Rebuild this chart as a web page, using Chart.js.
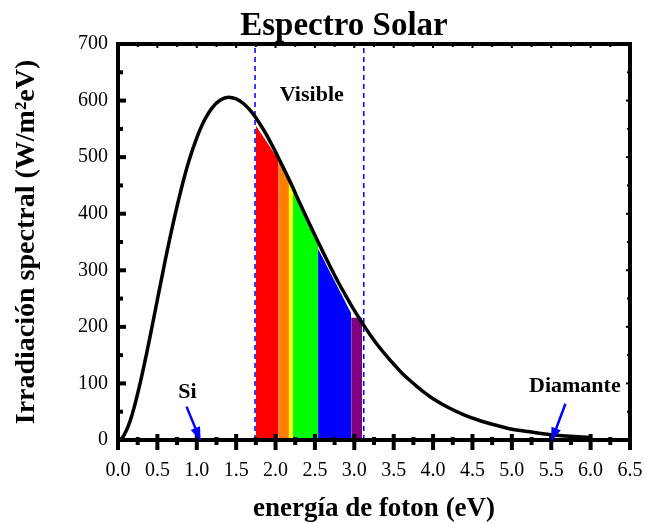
<!DOCTYPE html>
<html>
<head>
<meta charset="utf-8">
<script src="https://cdn.jsdelivr.net/npm/chart.js@4.4.1/dist/chart.umd.min.js"></script>
<style>
  html, body { margin: 0; padding: 0; background: #fff; }
  canvas { display: block; }
</style>
</head>
<body>
<canvas id="grafico" width="645" height="523"></canvas>
<script>
// curva del espectro solar (eV, W/m2eV)
const energia = [0, 0.05, 0.1, 0.15, 0.2, 0.3, 0.4, 0.5, 0.6, 0.7, 0.8, 0.9, 1.0, 1.1, 1.2, 1.3, 1.4, 1.5,
  1.6, 1.7, 1.8, 1.9, 2.0, 2.1, 2.2, 2.3, 2.4, 2.5, 2.6, 2.7, 2.8, 2.9, 3.0, 3.1, 3.2, 3.3, 3.4, 3.5,
  3.6, 3.7, 3.8, 3.9, 4.0, 4.2, 4.4, 4.6, 4.8, 5.0, 5.2, 5.4, 5.6, 5.8, 6.0];
const irradiancia = [0, 3, 15, 32, 55, 112, 178, 248, 318, 383, 442, 493, 534, 566, 588, 601, 606, 603,
  594, 579, 559, 536, 509, 481, 452, 421, 391, 362, 333, 305, 278, 253, 229, 207, 186, 167, 150, 134,
  119, 106, 94, 83, 73, 57, 44, 34, 26, 19, 15, 11, 8, 6, 4.5];

// bandas de color del visible: [x inicio, x fin], [y inicio, y fin]
const bandaColores = ['#ff0000', '#ff8000', '#ffff00', '#00ff00', '#0000ff', '#800080'];
const bandaX = [[1.75, 2.04], [2.04, 2.17], [2.17, 2.22], [2.22, 2.54], [2.54, 2.96], [2.96, 3.10]];
const bandaY = [[556, 495], [495, 458], [457, 454], [454, 348], [338, 224], [216, 216]];

// limites del visible (lineas discontinuas)
const limitesVisible = [1.74, 3.12];

const xTicks = [0, 0.5, 1, 1.5, 2, 2.5, 3, 3.5, 4, 4.5, 5, 5.5, 6, 6.5];
const yTicks = [0, 100, 200, 300, 400, 500, 600, 700];

// flechas de los gaps: texto, posicion del texto, inicio y punta de la flecha
const flechas = [
  { texto: 'Si', tx: 0.88, ty: 85, x0: 0.87, y0: 59, x1: 1.05, y1: -2 },
  { texto: 'Diamante', tx: 5.8, ty: 95, x0: 5.68, y0: 64, x1: 5.5, y1: -3 }
];

const serif = '"Liberation Serif", "Times New Roman", serif';

const datasets = [];
datasets.push({
  data: energia.map((e, i) => ({ x: e, y: irradiancia[i] })),
  borderColor: '#000',
  borderWidth: 3.5,
  pointRadius: 0,
  tension: 0.4,
  cubicInterpolationMode: 'monotone',
  fill: false,
  order: 0
});
limitesVisible.forEach(v => {
  datasets.push({
    data: [{ x: v, y: 0 }, { x: v, y: 700 }],
    borderColor: '#0000ff',
    borderWidth: 1.5,
    borderDash: [5, 4],
    pointRadius: 0,
    fill: false,
    order: 1
  });
});
bandaColores.forEach((c, i) => {
  datasets.push({
    data: [{ x: bandaX[i][0], y: bandaY[i][0] }, { x: bandaX[i][1], y: bandaY[i][1] }],
    borderWidth: 0,
    borderColor: c,
    backgroundColor: c,
    pointRadius: 0,
    fill: (i === 1 || i === 2) ? { value: -10 } : 'origin',
    clip: (i === 1 || i === 2) ? false : undefined,
    order: 2
  });
});

// marco, marcas de los ejes, titulo y flechas
const decoracion = {
  id: 'decoracion',
  afterDatasetsDraw(chart) {
    const { ctx, chartArea: a, scales: { x, y } } = chart;
    ctx.save();
    ctx.fillStyle = '#000';
    // marcas x
    for (let v = 0; v <= 6.5001; v += 0.25) {
      const px = x.getPixelForValue(v);
      const mayor = Math.abs(v * 2 - Math.round(v * 2)) < 1e-6;
      if (mayor) ctx.fillRect(px - 2, a.bottom - 6, 4, 16);
      else ctx.fillRect(px - 2, a.bottom - 3, 4, 8);
      ctx.fillRect(px - 1, a.top, 2, mayor ? 4 : 3);
    }
    // marcas y
    for (let v = 0; v <= 700; v += 50) {
      const py = y.getPixelForValue(v);
      const mayor = v % 100 === 0;
      ctx.fillRect(a.left, py - 2, mayor ? 8 : 5, 4);
      ctx.fillRect(a.right - (mayor ? 4 : 3), py - 1, mayor ? 4 : 3, 2);
    }
    // marco
    ctx.strokeStyle = '#000';
    ctx.lineWidth = 4;
    ctx.beginPath();
    ctx.moveTo(a.left, a.top);
    ctx.lineTo(a.left, a.bottom);
    ctx.lineTo(a.right, a.bottom);
    ctx.stroke();
    ctx.beginPath();
    ctx.moveTo(a.left - 2, a.top);
    ctx.lineTo(a.right, a.top);
    ctx.lineTo(a.right, a.bottom + 2);
    ctx.stroke();

    // texto Visible
    ctx.font = 'bold 22px ' + serif;
    ctx.textAlign = 'center';
    ctx.textBaseline = 'middle';
    ctx.fillText('Visible', x.getPixelForValue(2.46), y.getPixelForValue(610));

    // flechas
    flechas.forEach(f => {
      ctx.fillStyle = '#000';
      ctx.fillText(f.texto, x.getPixelForValue(f.tx), y.getPixelForValue(f.ty));
      const x0 = x.getPixelForValue(f.x0), y0 = y.getPixelForValue(f.y0);
      const x1 = x.getPixelForValue(f.x1), y1 = y.getPixelForValue(f.y1);
      const ang = Math.atan2(y1 - y0, x1 - x0);
      ctx.strokeStyle = '#0000ff';
      ctx.fillStyle = '#0000ff';
      ctx.lineWidth = 2.5;
      ctx.beginPath();
      ctx.moveTo(x0, y0);
      ctx.lineTo(x1 - 10 * Math.cos(ang), y1 - 10 * Math.sin(ang));
      ctx.stroke();
      ctx.beginPath();
      ctx.moveTo(x1, y1);
      ctx.lineTo(x1 - 14 * Math.cos(ang) + 5 * Math.sin(ang), y1 - 14 * Math.sin(ang) - 5 * Math.cos(ang));
      ctx.lineTo(x1 - 14 * Math.cos(ang) - 5 * Math.sin(ang), y1 - 14 * Math.sin(ang) + 5 * Math.cos(ang));
      ctx.closePath();
      ctx.fill();
    });

    // titulo
    ctx.fillStyle = '#000';
    ctx.font = 'bold 33px ' + serif;
    ctx.textBaseline = 'alphabetic';
    ctx.fillText('Espectro Solar', 344, 35);
    ctx.restore();
  }
};

new Chart(document.getElementById('grafico'), {
  type: 'line',
  data: { datasets },
  options: {
    responsive: false,
    animation: false,
    devicePixelRatio: 1,
    layout: { padding: { top: 44, right: 15, left: 0, bottom: 0 } },
    plugins: { legend: { display: false }, tooltip: { enabled: false }, title: { display: false } },
    scales: {
      x: {
        type: 'linear',
        min: 0,
        max: 6.5,
        afterFit: s => { s.height = 83; s.paddingLeft = 0; s.paddingRight = 0; },
        afterBuildTicks: s => { s.ticks = xTicks.map(v => ({ value: v })); },
        grid: { display: false, drawTicks: false },
        border: { display: false },
        ticks: {
          padding: 19,
          color: '#000',
          maxRotation: 0,
          autoSkip: false,
          font: { family: serif, size: 20 },
          callback: v => Number(v).toFixed(1)
        },
        title: {
          display: true,
          text: 'energía de foton (eV)',
          color: '#000',
          font: { family: serif, size: 27, weight: 'bold', lineHeight: 1 },
          padding: { top: 0, bottom: 0 }
        }
      },
      y: {
        min: 0,
        max: 700,
        afterFit: s => { s.width = 118; },
        afterBuildTicks: s => { s.ticks = yTicks.map(v => ({ value: v })); },
        grid: { display: false, drawTicks: false },
        border: { display: false },
        ticks: {
          padding: 10,
          color: '#000',
          font: { family: serif, size: 20 }
        },
        title: {
          display: true,
          text: 'Irradiación spectral (W/m²eV)',
          color: '#000',
          font: { family: serif, size: 28, weight: 'bold', lineHeight: 1 },
          padding: { top: 13, bottom: 0 }
        }
      }
    }
  },
  plugins: [decoracion]
});
</script>
</body>
</html>
